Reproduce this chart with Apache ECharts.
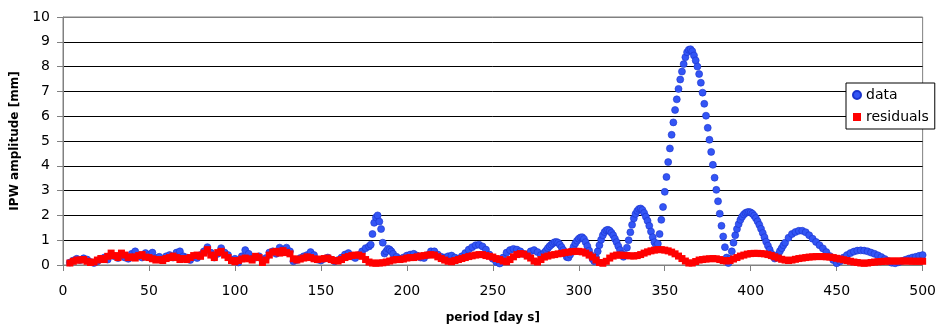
<!DOCTYPE html>
<html><head><meta charset="utf-8">
<script src="https://cdn.jsdelivr.net/npm/echarts@6/dist/echarts.min.js"></script>
<style>html,body{margin:0;padding:0;background:#fff}#c{width:939px;height:329px}</style>
</head><body><div id="c"></div><script>
// ---- data ----
const xTicks = [0, 50, 100, 150, 200, 250, 300, 350, 400, 450, 500];
const yTicks = [0, 1, 2, 3, 4, 5, 6, 7, 8, 9, 10];

const dataPeriods = [
  4,6,8,10,12,14,16,18,20,22,24,26,28,30,32,34,36,38,40,42,44,46,48,50,52,54,56,58,60,62,
  64,66,68,70,72,74,76,78,80,82,84,86,88,90,92,94,96,98,100,102,104,106,108,110,112,114,116,118,120,122,
  124,126,128,130,132,134,136,138,140,142,144,146,148,150,152,154,156,158,160,162,164,166,168,170,172,174,176,178,
  179,180,181,182,183,184,185,186,187,188,189,190,191,192,
  194,196,198,200,202,204,206,208,210,212,214,216,218,220,222,224,226,228,230,232,
  234,236,238,240,242,244,246,248,250,252,254,256,258,260,262,264,266,268,270,272,274,276,278,
  280,281,282,283,284,285,286,287,288,289,290,291,292,293,294,295,296,297,298,299,
  300,301,302,303,304,305,306,307,308,309,310,311,312,313,314,315,316,317,318,319,
  320,321,322,323,324,325,326,327,328,329,330,331,332,333,334,335,336,337,338,339,
  340,341,342,343,344,345,346,347,348,349,350,351,352,353,354,355,356,357,358,359,
  360,361,362,363,364,365,366,367,368,369,370,371,372,373,374,375,376,377,378,379,
  380,381,382,383,384,385,386,387,388,389,390,391,392,393,394,395,396,397,398,399,
  400,401,402,403,404,405,406,407,408,409,410,411,412,413,414,415,416,417,418,419,420,
  422,424,426,428,430,432,434,436,438,440,442,444,446,448,450,452,454,456,458,460,
  462,464,466,468,470,472,474,476,478,480,482,484,486,488,490,492,494,496,498,500
];
const dataValues = [
  0.10,0.18,0.25,0.20,0.27,0.22,0.12,0.08,0.15,0.25,
  0.30,0.22,0.42,0.35,0.28,0.38,0.30,0.25,0.45,0.55,
  0.35,0.30,0.48,0.40,0.50,0.28,0.33,0.22,0.35,0.40,
  0.30,0.50,0.55,0.35,0.30,0.20,0.33,0.28,0.40,0.55,
  0.72,0.50,0.30,0.45,0.68,0.50,0.40,0.20,0.25,0.10,
  0.35,0.60,0.45,0.25,0.30,0.35,0.18,0.28,0.50,0.55,
  0.45,0.70,0.62,0.70,0.55,0.15,0.20,0.28,0.35,0.40,
  0.52,0.40,0.22,0.18,0.25,0.30,0.22,0.15,0.20,0.30,
  0.42,0.48,0.35,0.28,0.40,0.55,0.68,0.75,
  0.82,1.25,1.70,1.92,2.00,1.75,1.45,0.90,0.46,0.55,0.66,0.62,0.55,0.45,
  0.33,0.25,0.30,0.38,0.42,0.45,0.38,0.30,0.28,0.40,
  0.55,0.55,0.42,0.33,0.30,0.35,0.38,0.30,0.25,0.35,
  0.48,0.62,0.72,0.80,0.82,0.75,0.62,0.42,0.25,0.12,
  0.06,0.30,0.50,0.60,0.65,0.62,0.55,0.45,0.42,0.55,
  0.60,0.52,0.40,
  0.50,0.58,0.68,0.76,0.82,0.88,0.92,0.93,0.90,0.82,
  0.72,0.60,0.45,0.32,0.30,0.42,0.58,0.74,0.88,0.98,
  1.06,1.11,1.12,1.05,0.92,0.76,0.58,0.40,0.24,0.15,
  0.30,0.55,0.80,1.02,1.20,1.33,1.40,1.42,1.38,1.30,
  1.20,1.06,0.92,0.76,0.60,0.45,0.33,0.40,0.70,1.00,
  1.32,1.62,1.88,2.06,2.18,2.26,2.28,2.22,2.10,1.95,
  1.78,1.58,1.35,1.12,0.92,0.78,0.86,1.25,1.82,2.34,
  2.95,3.55,4.15,4.70,5.25,5.75,6.25,6.68,7.10,7.48,
  7.80,8.10,8.38,8.58,8.68,8.70,8.62,8.45,8.25,8.00,
  7.70,7.35,6.95,6.50,6.02,5.53,5.05,4.56,4.04,3.52,
  3.03,2.57,2.07,1.58,1.15,0.72,0.30,0.08,0.25,0.55,
  0.90,1.20,1.45,1.65,1.82,1.95,2.04,2.10,2.13,2.14,
  2.12,2.07,1.99,1.89,1.76,1.62,1.46,1.29,1.12,0.94,
  0.78,0.62,0.46,0.34,0.26,0.30,0.42,0.56,0.68,0.80,
  0.90,
  1.10,1.25,1.33,1.38,1.38,1.32,1.20,1.06,0.93,0.80,
  0.67,0.52,0.36,0.20,0.07,0.15,0.30,0.40,0.48,0.54,
  0.58,0.59,0.58,0.55,0.50,0.45,0.39,0.32,0.24,0.16,
  0.09,0.07,0.11,0.16,0.21,0.26,0.30,0.33,0.37,0.40
];

const residualPeriods = [
  4,6,8,10,12,14,16,18,20,22,24,26,28,30,32,34,36,38,40,42,
  44,46,48,50,52,54,56,58,60,62,64,66,68,70,72,74,76,78,80,82,
  84,86,88,90,92,94,96,98,100,102,104,106,108,110,112,114,116,118,120,122,
  124,126,128,130,132,134,136,138,140,142,144,146,148,150,152,154,156,158,160,162,
  164,166,168,170,172,174,176,178,180,182,184,186,188,190,192,194,196,198,200,202,
  204,206,208,210,212,214,216,218,220,222,224,226,228,230,232,234,236,238,240,242,
  244,246,248,250,252,254,256,258,260,262,264,266,268,270,272,274,276,278,280,282,
  284,286,288,290,292,294,296,298,300,302,304,306,308,310,312,314,316,318,320,322,
  324,326,328,330,332,334,336,338,340,342,344,346,348,350,352,354,356,358,360,362,
  364,366,368,370,372,374,376,378,380,382,384,386,388,390,392,394,396,398,400,402,
  404,406,408,410,412,414,416,418,420,422,424,426,428,430,432,434,436,438,440,442,
  444,446,448,450,452,454,456,458,460,462,464,466,468,470,472,474,476,478,480,482,
  484,486,488,490,492,494,496,498,500
];
const residualValues = [
  0.08,0.15,0.20,0.20,0.22,0.15,0.10,0.12,0.20,0.26,
  0.22,0.35,0.48,0.38,0.30,0.48,0.40,0.30,0.33,0.28,
  0.38,0.42,0.32,0.30,0.25,0.20,0.22,0.18,0.26,0.30,
  0.36,0.30,0.22,0.26,0.22,0.30,0.38,0.40,0.35,0.48,
  0.62,0.40,0.30,0.50,0.55,0.40,0.30,0.18,0.13,0.18,
  0.24,0.28,0.25,0.20,0.35,0.30,0.10,0.20,0.40,0.52,
  0.55,0.48,0.58,0.50,0.45,0.25,0.20,0.24,0.28,0.33,
  0.30,0.25,0.22,0.24,0.26,0.28,0.22,0.18,0.16,0.22,
  0.30,0.34,0.38,0.40,0.40,0.35,0.22,0.12,0.08,0.07,
  0.08,0.09,0.12,0.16,0.20,0.22,0.22,0.24,0.28,0.30,
  0.30,0.33,0.36,0.38,0.40,0.42,0.40,0.33,0.26,0.20,
  0.15,0.13,0.18,0.22,0.26,0.30,0.34,0.37,0.40,0.42,
  0.42,0.38,0.35,0.32,0.26,0.22,0.16,0.13,0.22,0.33,
  0.42,0.46,0.44,0.36,0.28,0.16,0.12,0.22,0.32,0.36,
  0.40,0.42,0.45,0.47,0.50,0.52,0.54,0.55,0.55,0.53,
  0.48,0.40,0.32,0.20,0.10,0.07,0.15,0.28,0.36,0.40,
  0.40,0.39,0.38,0.37,0.36,0.38,0.42,0.48,0.53,0.57,
  0.60,0.62,0.62,0.60,0.57,0.52,0.45,0.36,0.26,0.16,
  0.08,0.08,0.14,0.20,0.22,0.24,0.25,0.26,0.25,0.22,
  0.18,0.16,0.18,0.24,0.30,0.36,0.40,0.44,0.46,0.47,
  0.47,0.46,0.45,0.42,0.38,0.33,0.28,0.23,0.20,0.18,
  0.20,0.23,0.26,0.28,0.30,0.32,0.33,0.34,0.34,0.34,
  0.33,0.32,0.30,0.27,0.24,0.21,0.18,0.15,0.12,0.10,
  0.08,0.07,0.08,0.10,0.12,0.13,0.14,0.15,0.16,0.16,
  0.16,0.16,0.16,0.16,0.16,0.15,0.15,0.15,0.15
];

const seriesNames = ['data', 'residuals'];
const xTitle = 'period [day s]';
const yTitle = 'IPW amplitude [mm]';

// ---- build ----
function zip(xs, ys) {
  const n = Math.min(xs.length, ys.length);
  const out = [];
  for (let i = 0; i < n; i++) out.push([xs[i], ys[i]]);
  return out;
}
const FONT = 'DejaVu Sans';
const splitColors = yTicks.map((v, i) => (i === 0 || i === yTicks.length - 1) ? '#808080' : '#000000');

const chart = echarts.init(document.getElementById('c'), null, { renderer: 'canvas' });
chart.setOption({
  animation: false,
  backgroundColor: '#ffffff',
  grid: { left: 63, right: 11, top: 17, bottom: 59, show: true, borderColor: '#808080', borderWidth: 1, backgroundColor: '#ffffff' },
  xAxis: {
    type: 'value', min: xTicks[0], max: xTicks[xTicks.length - 1], interval: xTicks[1] - xTicks[0],
    name: xTitle, nameLocation: 'middle', nameGap: 47,
    nameTextStyle: { fontFamily: FONT, fontWeight: 'bold', fontSize: 12, color: '#000' },
    axisLine: { show: true, onZero: false, lineStyle: { color: '#808080', width: 1 } },
    axisTick: { show: true, length: 6, lineStyle: { color: '#808080' } },
    axisLabel: { fontFamily: FONT, fontSize: 14, color: '#000', margin: 19 },
    splitLine: { show: false }
  },
  yAxis: {
    type: 'value', min: yTicks[0], max: yTicks[yTicks.length - 1], interval: yTicks[1] - yTicks[0],
    name: yTitle, nameLocation: 'middle', nameGap: 36,
    nameTextStyle: { fontFamily: FONT, fontWeight: 'bold', fontSize: 12, color: '#000' },
    axisLine: { show: true, lineStyle: { color: '#808080', width: 1 } },
    axisTick: { show: true, length: 6, lineStyle: { color: '#808080' } },
    axisLabel: { fontFamily: FONT, fontSize: 14, color: '#000', margin: 13 },
    splitLine: { show: true, lineStyle: { color: splitColors, width: 1 } }
  },
  legend: {
    orient: 'vertical', left: 846, top: 83,
    backgroundColor: '#ffffff', borderColor: '#000000', borderWidth: 1,
    padding: [5, 6, 5, 6], itemGap: 8, itemWidth: 8, itemHeight: 8,
    textStyle: { fontFamily: FONT, fontSize: 14, color: '#000' },
    data: [{ name: seriesNames[0], icon: 'circle' }, { name: seriesNames[1], icon: 'rect' }]
  },
  series: [
    {
      name: seriesNames[0], type: 'scatter', symbol: 'circle', symbolSize: 7,
      itemStyle: { color: '#3355f5', borderColor: '#1a33cc', borderWidth: 0.6, opacity: 1 },
      data: zip(dataPeriods, dataValues), z: 2
    },
    {
      name: seriesNames[1], type: 'scatter', symbol: 'rect', symbolSize: 7,
      itemStyle: { color: '#ff0000', opacity: 1 },
      data: zip(residualPeriods, residualValues), z: 3
    }
  ]
});
</script></body></html>
